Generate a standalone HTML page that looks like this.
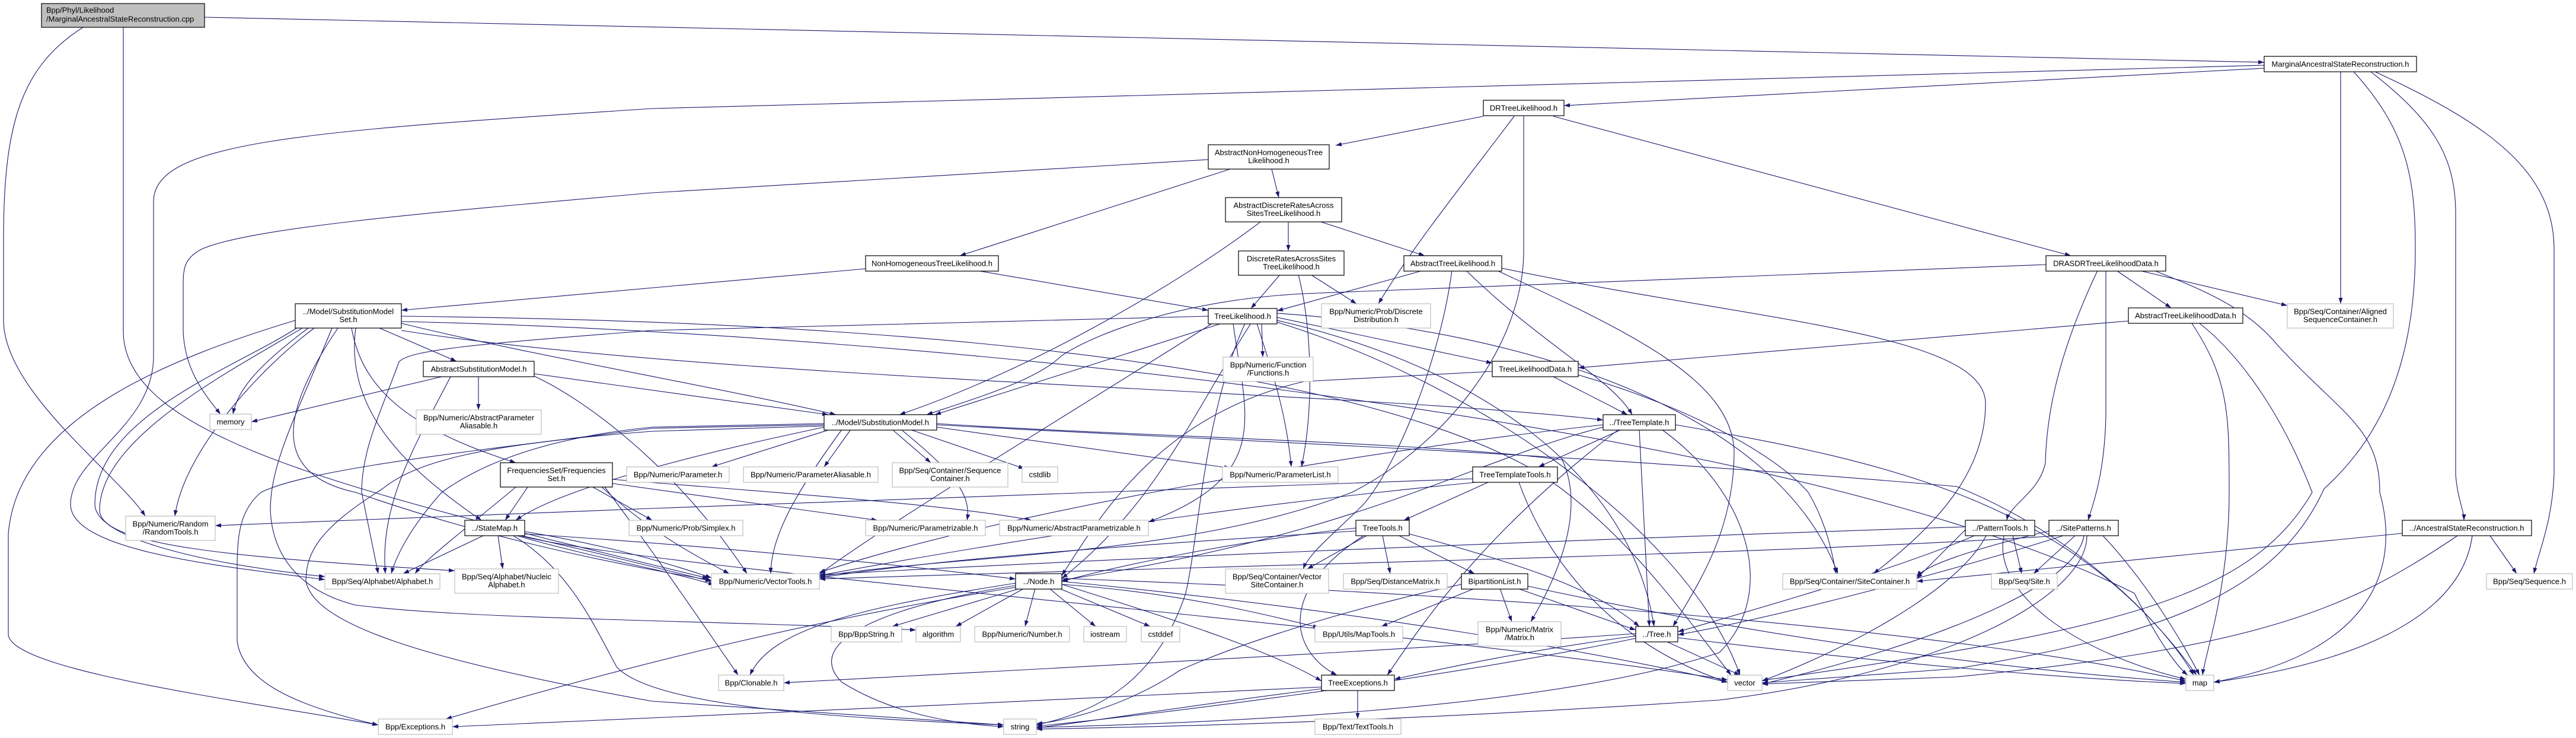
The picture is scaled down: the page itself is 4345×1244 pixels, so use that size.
<!DOCTYPE html>
<html><head><meta charset="utf-8"><style>
html,body{margin:0;padding:0;background:#fff;}
svg{display:block;}
text{font-family:"Liberation Sans",Arial,sans-serif;font-size:13px;fill:#000;}
.e{fill:none;stroke:#191970;stroke-width:1.1;}
.b{fill:#fff;stroke:#000;stroke-width:1.2;}
.g{fill:#fff;stroke:#bfbfbf;stroke-width:1.2;}
.r{fill:#bfbfbf;stroke:#000;stroke-width:1.2;}
</style></head><body>
<svg width="4345" height="1244" viewBox="0 0 4345 1244" xmlns="http://www.w3.org/2000/svg">
<defs><marker id="a" viewBox="0 0 10 7" refX="10" refY="3.5" markerWidth="10" markerHeight="7" markerUnits="userSpaceOnUse" orient="auto"><path d="M0,0 L10,3.5 L0,7 z" fill="#191970"/></marker></defs>
<g class="e" marker-end="url(#a)">
<path d="M345,29 L3819,105"/>
<path d="M140,46 C40,110 6,200 6,400 L6,540 C6,660 200,800 245,870"/>
<path d="M208,46 L208,560 C210,740 600,830 1195,975"/>
<path d="M3819,115 L2638,178"/>
<path d="M3819,110 L1100,183 C500,222 259,240 259,340 L259,600 C259,720 119,770 119,850 C119,930 380,955 548,977"/>
<path d="M3948,121 L3948,512"/>
<path d="M3970,121 C4060,220 4074,300 4074,420 C4074,650 3990,760 3920,824 C3840,1000 3650,1070 3300,1127 L2972,1151"/>
<path d="M3999,121 C4100,200 4142,260 4142,360 L4142,800 C4145,840 4156,860 4156,877"/>
<path d="M4006,121 C4200,210 4308,290 4308,420 L4308,800 C4305,880 4282,930 4274,967"/>
<path d="M2502,196 L2253,245"/>
<path d="M2554,196 C2460,320 2380,420 2325,512"/>
<path d="M2570,196 L2570,430 C2565,600 2420,760 2280,830 C2000,940 1600,935 1382,972"/>
<path d="M2620,196 L3493,431"/>
<path d="M2038,269 L1100,325 C700,360 420,385 340,420 C312,435 309,450 309,480 L309,560 C312,620 340,660 372,698"/>
<path d="M2075,285 L1619,431"/>
<path d="M2145,285 L2157,333"/>
<path d="M2126,374 C2000,470 1750,620 1517,699"/>
<path d="M2173,374 L2173,423"/>
<path d="M2228,374 L2403,431"/>
<path d="M1460,453 L677,523"/>
<path d="M1647,456 L2038,523"/>
<path d="M2159,463 L2110,520"/>
<path d="M2211,463 L2288,512"/>
<path d="M2190,463 C2215,560 2215,700 2195,787"/>
<path d="M2400,456 L2154,524"/>
<path d="M2473,456 C2600,580 2720,640 2753,699"/>
<path d="M2449,456 C2430,600 2360,780 2300,850 C2250,900 2210,930 2198,959"/>
<path d="M2533,452 C2950,540 3349,560 3349,680 C3349,800 3260,890 3160,967"/>
<path d="M2525,456 C2750,560 2920,640 2925,760 C2925,900 2860,990 2822,1056"/>
<path d="M3570,456 L3662,519"/>
<path d="M3608,456 L3858,515"/>
<path d="M3538,456 C3470,600 3452,700 3450,780 C3440,830 3390,850 3385,877"/>
<path d="M3552,456 L3552,700 C3550,800 3530,850 3522,877"/>
<path d="M3633,456 C3720,490 3790,520 3840,580 C3950,700 4014,720 4014,830 C4050,960 4000,1100 3734,1150"/>
<path d="M3451,446 L2200,495 C2000,505 1850,560 1790,600 C1750,640 1650,670 1563,699"/>
<path d="M640,553 L770,609"/>
<path d="M520,553 C430,620 400,660 393,698"/>
<path d="M593,553 C610,650 680,720 870,780"/>
<path d="M498,540 C300,600 30,700 14,900 L14,1070 C20,1130 400,1180 638,1222"/>
<path d="M530,553 C440,620 310,760 295,870"/>
<path d="M505,550 C400,620 160,700 160,850 C160,900 300,945 548,972"/>
<path d="M510,553 C380,630 168,740 168,860 C168,920 400,940 767,962"/>
<path d="M570,553 C470,700 460,800 600,830 C800,900 1000,945 1200,978"/>
<path d="M677,545 C900,600 1200,650 1410,699"/>
<path d="M677,533 C1100,538 2200,560 2600,800 C2750,900 2850,1050 2920,1138"/>
<path d="M677,542 C1500,560 3000,700 3600,1000 C3650,1100 3680,1130 3690,1138"/>
<path d="M677,557 C1200,640 2300,660 2704,708"/>
<path d="M560,553 C500,700 456,780 456,860 C460,950 520,1000 600,1020 C800,1045 1200,1045 1545,1062"/>
<path d="M600,553 C580,700 700,800 812,877"/>
<path d="M745,635 L424,711"/>
<path d="M807,635 L807,691"/>
<path d="M901,630 L1397,699"/>
<path d="M760,635 C700,750 640,850 650,967"/>
<path d="M901,634 C1000,680 1150,800 1260,967"/>
<path d="M890,821 L852,877"/>
<path d="M1000,821 L1100,877"/>
<path d="M1033,815 L1480,877"/>
<path d="M1033,808 C1300,830 1600,850 1740,877"/>
<path d="M1015,821 C1100,900 1180,940 1230,967"/>
<path d="M870,821 C800,880 720,940 700,967"/>
<path d="M1020,821 C1080,900 1150,1000 1245,1138"/>
<path d="M1400,724 L1200,787"/>
<path d="M1435,724 L1390,787"/>
<path d="M1505,724 L1570,780"/>
<path d="M1535,724 L1728,790"/>
<path d="M1580,720 L2075,789"/>
<path d="M1390,720 C1200,760 950,820 870,877"/>
<path d="M1390,714 L1100,720 C900,740 800,790 745,830 C700,880 670,930 660,967"/>
<path d="M1390,716 L1100,722 C800,760 520,790 440,830 C405,860 400,900 400,960 L400,1081 C410,1150 500,1190 638,1222"/>
<path d="M1390,718 L1100,727 C800,750 700,780 645,824 C540,890 516,930 516,980 C530,1050 700,1110 1100,1182 L1693,1222"/>
<path d="M1520,724 C1600,790 1640,830 1631,877"/>
<path d="M1420,724 C1350,820 1300,900 1300,967"/>
<path d="M1580,714 C1900,735 2400,745 2635,775 C2670,850 2640,950 2582,1048"/>
<path d="M1580,716 C2000,740 2600,760 3300,820 C3500,900 3650,1050 3700,1138"/>
<path d="M2128,545 L2130,602"/>
<path d="M2154,535 L2517,612"/>
<path d="M2061,545 L1577,699"/>
<path d="M2120,545 C2150,640 2170,700 2178,787"/>
<path d="M2110,545 C2010,700 1950,850 1791,975"/>
<path d="M2038,533 L1100,557 C800,580 690,590 673,610 C640,700 610,760 610,830 L638,967"/>
<path d="M2100,545 C2030,700 2023,900 2000,1000 C1950,1150 1850,1200 1748,1222"/>
<path d="M2154,528 C2600,560 3000,700 3100,967"/>
<path d="M2154,540 C2500,620 2750,800 2790,1056"/>
<path d="M2154,543 C2500,650 2850,900 2935,1138"/>
<path d="M2045,545 C1800,700 1500,880 1382,968"/>
<path d="M2080,545 C2100,700 2150,800 1937,880"/>
<path d="M2620,635 L2745,699"/>
<path d="M2517,626 L2200,643 C1950,700 1850,880 1791,970"/>
<path d="M2662,632 C2830,680 2990,760 3050,830 C3080,880 3090,930 3097,967"/>
<path d="M2735,724 L2595,787"/>
<path d="M2704,720 C2480,777 2300,900 1791,978"/>
<path d="M2765,724 L2782,1056"/>
<path d="M2826,716 C3200,780 3500,850 3705,1138"/>
<path d="M2803,724 C2950,830 3000,1000 2900,1100 C2600,1200 2000,1220 1748,1226"/>
<path d="M2704,716 C2300,760 1700,860 1382,965"/>
<path d="M2730,724 C2500,900 2400,1050 2340,1138"/>
<path d="M2510,813 L2368,877"/>
<path d="M2484,807 L1100,857 L363,886"/>
<path d="M2490,813 C2000,860 1600,930 1382,970"/>
<path d="M2562,813 C2600,920 2700,1080 2914,1150"/>
<path d="M2332,903 L2345,967"/>
<path d="M2360,903 L2487,967"/>
<path d="M2305,903 L2205,959"/>
<path d="M2287,895 C1900,920 1600,940 1382,974"/>
<path d="M2287,890 C2100,910 1900,950 1791,980"/>
<path d="M2377,900 C2600,960 2700,1000 2765,1056"/>
<path d="M2300,903 C2150,1000 2180,1100 2255,1138"/>
<path d="M2487,992 L2330,1056"/>
<path d="M2530,992 L2550,1048"/>
<path d="M2560,992 L2759,1062"/>
<path d="M2577,988 C3000,1080 3400,1130 3687,1150"/>
<path d="M2465,985 C2300,1020 2100,1080 1990,1130 C1900,1190 1800,1215 1748,1220"/>
<path d="M1720,992 L1505,1056"/>
<path d="M1727,992 L1612,1056"/>
<path d="M1746,992 L1729,1056"/>
<path d="M1770,992 L1848,1056"/>
<path d="M1787,992 L1940,1056"/>
<path d="M1713,983 C1450,1024 1300,1060 1265,1138"/>
<path d="M1713,987 C1500,1020 1350,1080 1420,1150 C1500,1200 1600,1220 1693,1225"/>
<path d="M1713,990 C1400,1040 1100,1110 752,1212"/>
<path d="M1791,985 C2000,1050 2150,1100 2229,1148"/>
<path d="M1791,980 C2300,1030 2700,1100 2914,1150"/>
<path d="M1791,975 C2500,1000 3300,1060 3687,1148"/>
<path d="M1791,985 C2000,1000 2150,1040 2225,1058"/>
<path d="M2810,1081 L2935,1138"/>
<path d="M2759,1072 C2550,1100 2420,1130 2352,1145"/>
<path d="M2759,1068 C2300,1100 1700,1130 1322,1151"/>
<path d="M2759,1076 C2400,1150 1900,1210 1748,1224"/>
<path d="M2830,1075 C3200,1120 3500,1145 3687,1152"/>
<path d="M2290,1163 L2290,1212"/>
<path d="M2229,1158 C1800,1180 1100,1210 763,1225"/>
<path d="M2229,1161 C2000,1190 1850,1215 1748,1227"/>
<path d="M815,903 L680,967"/>
<path d="M840,903 L848,959"/>
<path d="M885,896 C1000,915 1100,940 1200,974"/>
<path d="M880,903 C1000,930 1100,955 1200,980"/>
<path d="M872,903 C1000,940 1120,960 1205,986"/>
<path d="M866,903 C960,960 1000,1050 1040,1124 C1100,1190 1400,1210 1693,1222"/>
<path d="M877,903 C1100,960 2300,1050 2914,1146"/>
<path d="M885,900 C1200,920 1500,950 1713,976"/>
<path d="M3395,903 L3410,967"/>
<path d="M3315,893 L3233,975"/>
<path d="M3330,903 C3200,960 2950,1030 2830,1065"/>
<path d="M3380,903 C3360,1000 3500,1100 3687,1145"/>
<path d="M3350,903 C3300,1000 3100,1100 2972,1148"/>
<path d="M3315,888 C2500,915 1800,945 1382,969"/>
<path d="M3500,903 L3430,967"/>
<path d="M3456,895 C3350,920 3250,950 3233,972"/>
<path d="M3547,903 C3620,980 3680,1080 3710,1138"/>
<path d="M3480,903 C3300,960 3000,1040 2830,1070"/>
<path d="M3515,903 C3500,1000 3200,1100 2972,1153"/>
<path d="M3520,903 C3520,1000 3300,1130 2900,1180 C2300,1220 1900,1226 1748,1229"/>
<path d="M3470,903 C3000,935 2000,955 1382,976"/>
<path d="M4200,903 L4245,967"/>
<path d="M4052,899 L3233,980"/>
<path d="M4170,903 C4150,1050 3950,1120 3734,1150"/>
<path d="M4145,903 C3966,1024 3820,1091 3300,1141 L2972,1153"/>
<path d="M3590,541 L2662,620"/>
<path d="M3697,545 C3760,640 3760,700 3760,830 C3760,990 3720,1100 3715,1138"/>
<path d="M3710,545 C3780,600 3850,700 3900,830 C3800,1000 3600,1060 2972,1147"/>
</g>
<g>
<rect class="r" x="70" y="6" width="275" height="40"/><text x="78" y="21.5">Bpp/Phyl/Likelihood</text><text x="78" y="36.5">/MarginalAncestralStateReconstruction.cpp</text>
<rect class="b" x="3819" y="95" width="257" height="26"/><text x="3947.5" y="112.5" text-anchor="middle">MarginalAncestralStateReconstruction.h</text>
<rect class="b" x="2502" y="169" width="136" height="26"/><text x="2570" y="186.5" text-anchor="middle">DRTreeLikelihood.h</text>
<rect class="b" x="2038" y="244" width="204" height="41"/><text x="2140" y="261.5" text-anchor="middle">AbstractNonHomogeneousTree</text><text x="2140" y="275" text-anchor="middle">Likelihood.h</text>
<rect class="b" x="2067" y="333" width="196" height="41"/><text x="2165" y="350.5" text-anchor="middle">AbstractDiscreteRatesAcross</text><text x="2165" y="364" text-anchor="middle">SitesTreeLikelihood.h</text>
<rect class="b" x="1460" y="431" width="224" height="26"/><text x="1572" y="448.5" text-anchor="middle">NonHomogeneousTreeLikelihood.h</text>
<rect class="b" x="2089" y="423" width="178" height="41"/><text x="2178" y="440.5" text-anchor="middle">DiscreteRatesAcrossSites</text><text x="2178" y="454" text-anchor="middle">TreeLikelihood.h</text>
<rect class="b" x="2368" y="431" width="165" height="26"/><text x="2450.5" y="448.5" text-anchor="middle">AbstractTreeLikelihood.h</text>
<rect class="b" x="3451" y="431" width="202" height="26"/><text x="3552" y="448.5" text-anchor="middle">DRASDRTreeLikelihoodData.h</text>
<rect class="b" x="498" y="512" width="179" height="41"/><text x="587.5" y="529.5" text-anchor="middle">../Model/SubstitutionModel</text><text x="587.5" y="543" text-anchor="middle">Set.h</text>
<rect class="g" x="2229" y="512" width="184" height="41"/><text x="2321" y="529.5" text-anchor="middle">Bpp/Numeric/Prob/Discrete</text><text x="2321" y="543" text-anchor="middle">Distribution.h</text>
<rect class="b" x="2038" y="520" width="116" height="26"/><text x="2096" y="537.5" text-anchor="middle">TreeLikelihood.h</text>
<rect class="b" x="3590" y="519" width="193" height="26"/><text x="3686.5" y="536.5" text-anchor="middle">AbstractTreeLikelihoodData.h</text>
<rect class="g" x="3858" y="512" width="179" height="41"/><text x="3947.5" y="529.5" text-anchor="middle">Bpp/Seq/Container/Aligned</text><text x="3947.5" y="543" text-anchor="middle">SequenceContainer.h</text>
<rect class="b" x="714" y="609" width="187" height="26"/><text x="807.5" y="626.5" text-anchor="middle">AbstractSubstitutionModel.h</text>
<rect class="g" x="2063" y="602" width="152" height="41"/><text x="2139" y="619.5" text-anchor="middle">Bpp/Numeric/Function</text><text x="2139" y="633" text-anchor="middle">/Functions.h</text>
<rect class="b" x="2517" y="609" width="145" height="26"/><text x="2589.5" y="626.5" text-anchor="middle">TreeLikelihoodData.h</text>
<rect class="g" x="354" y="698" width="70" height="26"/><text x="389" y="715.5" text-anchor="middle">memory</text>
<rect class="g" x="702" y="691" width="211" height="41"/><text x="807.5" y="708.5" text-anchor="middle">Bpp/Numeric/AbstractParameter</text><text x="807.5" y="722" text-anchor="middle">Aliasable.h</text>
<rect class="b" x="1390" y="699" width="190" height="26"/><text x="1485" y="716.5" text-anchor="middle">../Model/SubstitutionModel.h</text>
<rect class="b" x="2704" y="699" width="122" height="26"/><text x="2765" y="716.5" text-anchor="middle">../TreeTemplate.h</text>
<rect class="b" x="844" y="780" width="189" height="41"/><text x="938.5" y="797.5" text-anchor="middle">FrequenciesSet/Frequencies</text><text x="938.5" y="811" text-anchor="middle">Set.h</text>
<rect class="g" x="1057" y="787" width="173" height="26"/><text x="1143.5" y="804.5" text-anchor="middle">Bpp/Numeric/Parameter.h</text>
<rect class="g" x="1254" y="787" width="227" height="26"/><text x="1367.5" y="804.5" text-anchor="middle">Bpp/Numeric/ParameterAliasable.h</text>
<rect class="g" x="1505" y="780" width="195" height="41"/><text x="1602.5" y="797.5" text-anchor="middle">Bpp/Seq/Container/Sequence</text><text x="1602.5" y="811" text-anchor="middle">Container.h</text>
<rect class="g" x="1724" y="787" width="60" height="26"/><text x="1754" y="804.5" text-anchor="middle">cstdlib</text>
<rect class="g" x="2062" y="787" width="195" height="26"/><text x="2159.5" y="804.5" text-anchor="middle">Bpp/Numeric/ParameterList.h</text>
<rect class="b" x="2484" y="787" width="143" height="26"/><text x="2555.5" y="804.5" text-anchor="middle">TreeTemplateTools.h</text>
<rect class="g" x="212" y="870" width="151" height="41"/><text x="287.5" y="887.5" text-anchor="middle">Bpp/Numeric/Random</text><text x="287.5" y="901" text-anchor="middle">/RandomTools.h</text>
<rect class="b" x="784" y="877" width="101" height="26"/><text x="834.5" y="894.5" text-anchor="middle">../StateMap.h</text>
<rect class="g" x="1061" y="877" width="192" height="26"/><text x="1157" y="894.5" text-anchor="middle">Bpp/Numeric/Prob/Simplex.h</text>
<rect class="g" x="1460" y="877" width="202" height="26"/><text x="1561" y="894.5" text-anchor="middle">Bpp/Numeric/Parametrizable.h</text>
<rect class="g" x="1686" y="877" width="251" height="26"/><text x="1811.5" y="894.5" text-anchor="middle">Bpp/Numeric/AbstractParametrizable.h</text>
<rect class="b" x="2287" y="877" width="90" height="26"/><text x="2332" y="894.5" text-anchor="middle">TreeTools.h</text>
<rect class="b" x="3315" y="877" width="117" height="26"/><text x="3373.5" y="894.5" text-anchor="middle">../PatternTools.h</text>
<rect class="b" x="3456" y="877" width="117" height="26"/><text x="3514.5" y="894.5" text-anchor="middle">../SitePatterns.h</text>
<rect class="b" x="4052" y="877" width="218" height="26"/><text x="4161" y="894.5" text-anchor="middle">../AncestralStateReconstruction.h</text>
<rect class="g" x="548" y="967" width="194" height="26"/><text x="645" y="984.5" text-anchor="middle">Bpp/Seq/Alphabet/Alphabet.h</text>
<rect class="g" x="767" y="959" width="175" height="41"/><text x="854.5" y="976.5" text-anchor="middle">Bpp/Seq/Alphabet/Nucleic</text><text x="854.5" y="990" text-anchor="middle">Alphabet.h</text>
<rect class="g" x="1200" y="967" width="182" height="26"/><text x="1291" y="984.5" text-anchor="middle">Bpp/Numeric/VectorTools.h</text>
<rect class="b" x="1713" y="967" width="78" height="26"/><text x="1752" y="984.5" text-anchor="middle">../Node.h</text>
<rect class="g" x="2067" y="959" width="174" height="41"/><text x="2154" y="976.5" text-anchor="middle">Bpp/Seq/Container/Vector</text><text x="2154" y="990" text-anchor="middle">SiteContainer.h</text>
<rect class="g" x="2266" y="967" width="175" height="26"/><text x="2353.5" y="984.5" text-anchor="middle">Bpp/Seq/DistanceMatrix.h</text>
<rect class="b" x="2465" y="967" width="112" height="26"/><text x="2521" y="984.5" text-anchor="middle">BipartitionList.h</text>
<rect class="g" x="3007" y="967" width="226" height="26"/><text x="3120" y="984.5" text-anchor="middle">Bpp/Seq/Container/SiteContainer.h</text>
<rect class="g" x="3359" y="967" width="111" height="26"/><text x="3414.5" y="984.5" text-anchor="middle">Bpp/Seq/Site.h</text>
<rect class="g" x="4194" y="967" width="145" height="26"/><text x="4266.5" y="984.5" text-anchor="middle">Bpp/Seq/Sequence.h</text>
<rect class="g" x="1402" y="1056" width="119" height="26"/><text x="1461.5" y="1073.5" text-anchor="middle">Bpp/BppString.h</text>
<rect class="g" x="1545" y="1056" width="75" height="26"/><text x="1582.5" y="1073.5" text-anchor="middle">algorithm</text>
<rect class="g" x="1644" y="1056" width="160" height="26"/><text x="1724" y="1073.5" text-anchor="middle">Bpp/Numeric/Number.h</text>
<rect class="g" x="1828" y="1056" width="72" height="26"/><text x="1864" y="1073.5" text-anchor="middle">iostream</text>
<rect class="g" x="1925" y="1056" width="65" height="26"/><text x="1957.5" y="1073.5" text-anchor="middle">cstddef</text>
<rect class="g" x="2218" y="1056" width="148" height="26"/><text x="2292" y="1073.5" text-anchor="middle">Bpp/Utils/MapTools.h</text>
<rect class="g" x="2493" y="1048" width="140" height="41"/><text x="2563" y="1065.5" text-anchor="middle">Bpp/Numeric/Matrix</text><text x="2563" y="1079" text-anchor="middle">/Matrix.h</text>
<rect class="b" x="2759" y="1056" width="71" height="26"/><text x="2794.5" y="1073.5" text-anchor="middle">../Tree.h</text>
<rect class="g" x="1212" y="1138" width="110" height="26"/><text x="1267" y="1155.5" text-anchor="middle">Bpp/Clonable.h</text>
<rect class="b" x="2229" y="1138" width="123" height="26"/><text x="2290.5" y="1155.5" text-anchor="middle">TreeExceptions.h</text>
<rect class="g" x="2914" y="1138" width="58" height="26"/><text x="2943" y="1155.5" text-anchor="middle">vector</text>
<rect class="g" x="3687" y="1138" width="47" height="26"/><text x="3710.5" y="1155.5" text-anchor="middle">map</text>
<rect class="g" x="638" y="1212" width="125" height="26"/><text x="700.5" y="1229.5" text-anchor="middle">Bpp/Exceptions.h</text>
<rect class="g" x="1693" y="1212" width="55" height="26"/><text x="1720.5" y="1229.5" text-anchor="middle">string</text>
<rect class="g" x="2218" y="1212" width="145" height="26"/><text x="2290.5" y="1229.5" text-anchor="middle">Bpp/Text/TextTools.h</text>
</g>
</svg>
</body></html>
